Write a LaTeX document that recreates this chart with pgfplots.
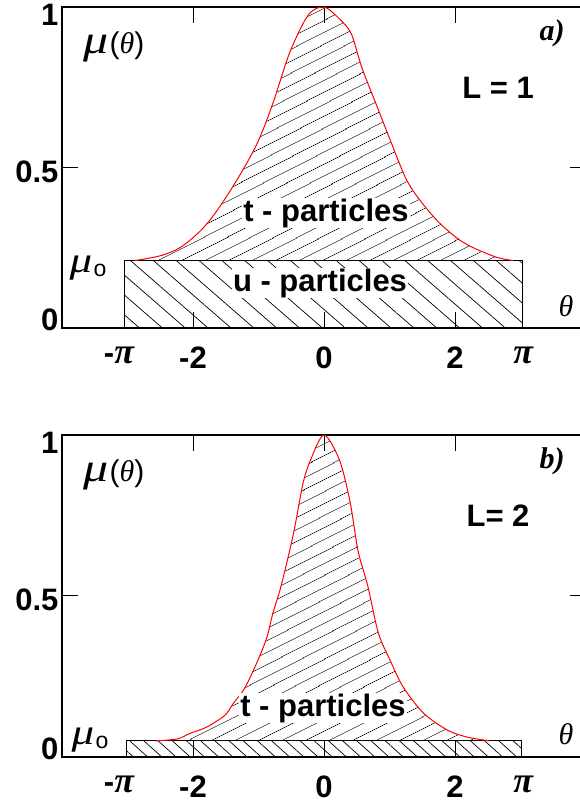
\documentclass[border=0pt]{standalone}
\usepackage{fontspec}
\setmainfont{Liberation Sans}
\newfontfamily\serif{Liberation Serif}
\usepackage{pgfplots}
\pgfplotsset{compat=1.18}
\usetikzlibrary{patterns.meta}

\pgfplotsset{
  panel/.style={
    scale only axis, width=524pt, height=321pt,
    xmin=-4, xmax=4, ymin=0, ymax=1,
    xtick={-2,0,2}, ytick={0,0.5,1},
    tick align=inside, major tick length=16pt,
    axis line style={line width=1.3pt},
    every tick/.style={black, line width=1pt},
    tick label style={font=\fontsize{31}{31}\selectfont\bfseries},
    /pgf/number format/assume math mode=true,
    xticklabel style={yshift=-15pt},
    yticklabel style={yshift={ifthenelse(\ticknum==0,8,ifthenelse(\ticknum==1,-4,-8))}},
    extra x ticks={-3.13,3.04},
    extra x tick labels={{\bfseries-}{\fontsize{36}{36}\selectfont\serif\itshape π},{\fontsize{36}{36}\selectfont\serif\itshape π}},
    extra x tick style={major tick length=0pt},
  },
  thatch/.style={draw=none, pattern={Lines[angle=27,distance=10.5pt,line width=0.7pt]}},
}

\begin{document}
\begin{tikzpicture}[x=1pt,y=1pt]
\useasboundingbox (0,0) rectangle (580,803);
\clip (0,0) rectangle (580,803);

% ---- panel a) L = 1 ----
\begin{axis}[panel, at={(62pt,475pt)}, anchor=south west]
\addplot[thatch, smooth] coordinates {
  (-2.89,0.21)(-2.5,0.225)(-2.2,0.25)(-1.9,0.30)(-1.66,0.358)(-1.33,0.461)
  (-1.02,0.575)(-0.78,0.70)(-0.52,0.86)(-0.24,0.975)(0,1)(0.25,0.96)
  (0.42,0.915)(0.58,0.81)(0.81,0.69)(1.01,0.586)(1.24,0.47)(1.42,0.41)
  (1.72,0.336)(2.03,0.28)(2.28,0.25)(2.64,0.22)(2.89,0.21)
};
\addplot[black, line width=1pt, pattern={Lines[angle=-41,distance=15pt,line width=0.7pt]}]
  coordinates {(-3.05,0)(-3.05,0.21)(3.03,0.21)(3.03,0)};
\addplot[red, line width=1pt, smooth] coordinates {
  (-2.89,0.21)(-2.5,0.225)(-2.2,0.25)(-1.9,0.30)(-1.66,0.358)(-1.33,0.461)
  (-1.02,0.575)(-0.78,0.70)(-0.52,0.86)(-0.24,0.975)(0,1)(0.25,0.96)
  (0.42,0.915)(0.58,0.81)(0.81,0.69)(1.01,0.586)(1.24,0.47)(1.42,0.41)
  (1.72,0.336)(2.03,0.28)(2.28,0.25)(2.64,0.22)(2.89,0.21)
};
\end{axis}

% ---- panel b) L = 2 ----
\begin{axis}[panel, height=322pt, at={(62pt,46pt)}, anchor=south west]
\addplot[thatch, smooth] coordinates {
  (-2.58,0.05)(-2.24,0.056)(-2.05,0.073)(-1.79,0.093)(-1.51,0.13)(-1.39,0.165)
  (-1.21,0.214)(-1.01,0.30)(-0.87,0.373)(-0.78,0.447)(-0.67,0.52)(-0.56,0.61)
  (-0.45,0.71)(-0.32,0.85)(-0.21,0.92)(0,1)(0.24,0.92)(0.40,0.79)(0.52,0.64)
  (0.67,0.53)(0.83,0.385)(1.01,0.30)(1.21,0.217)(1.52,0.136)(1.88,0.084)
  (2.18,0.062)(2.53,0.05)
};
\addplot[black, line width=1pt, pattern={Lines[angle=-42,distance=9.5pt,line width=0.7pt]}]
  coordinates {(-3.02,0)(-3.02,0.05)(3.01,0.05)(3.01,0)};
\addplot[red, line width=1pt, smooth] coordinates {
  (-2.58,0.05)(-2.24,0.056)(-2.05,0.073)(-1.79,0.093)(-1.51,0.13)(-1.39,0.165)
  (-1.21,0.214)(-1.01,0.30)(-0.87,0.373)(-0.78,0.447)(-0.67,0.52)(-0.56,0.61)
  (-0.45,0.71)(-0.32,0.85)(-0.21,0.92)(0,1)(0.24,0.92)(0.40,0.79)(0.52,0.64)
  (0.67,0.53)(0.83,0.385)(1.01,0.30)(1.21,0.217)(1.52,0.136)(1.88,0.084)
  (2.18,0.062)(2.53,0.05)
};
\end{axis}

% ---- labels ----
\tikzset{lab/.style={font=\fontsize{31}{31}\selectfont\bfseries, inner sep=1pt}}
\foreach \dy/\pl/\ll in {0/a/{L = 1},428/b/{L= 2}} {
  \node[font=\fontsize{40}{40}\selectfont\serif\itshape] at (96,754-\dy) {\scalebox{1.25}[1]{μ}};
  \node[font=\fontsize{30}{30}\selectfont] at (127,757-\dy) {(\serif\itshape θ\normalfont)};
  \node[font=\fontsize{30}{30}\selectfont\serif\itshape] at (566,497-\dy) {θ};
  \node[font=\fontsize{30}{30}\selectfont\serif\bfseries\itshape] at (552,770-\dy) {\pl)};
  \node[lab] at (498,715-\dy) {\ll};
}
\node[font=\fontsize{36}{36}\selectfont\serif\itshape] at (81,535) {\scalebox{1.25}[1]{μ}};
\node[font=\fontsize{23}{23}\selectfont] at (100,533) {o};
\node[font=\fontsize{36}{36}\selectfont\serif\itshape] at (83,63) {\scalebox{1.25}[1]{μ}};
\node[font=\fontsize{23}{23}\selectfont] at (102,61) {o};
\node[lab, fill=white] at (326,590) {t - particles};
\node[lab, fill=white] at (320,520) {u - particles};
\node[lab, fill=white] at (323,95) {t - particles};
\end{tikzpicture}
\end{document}
